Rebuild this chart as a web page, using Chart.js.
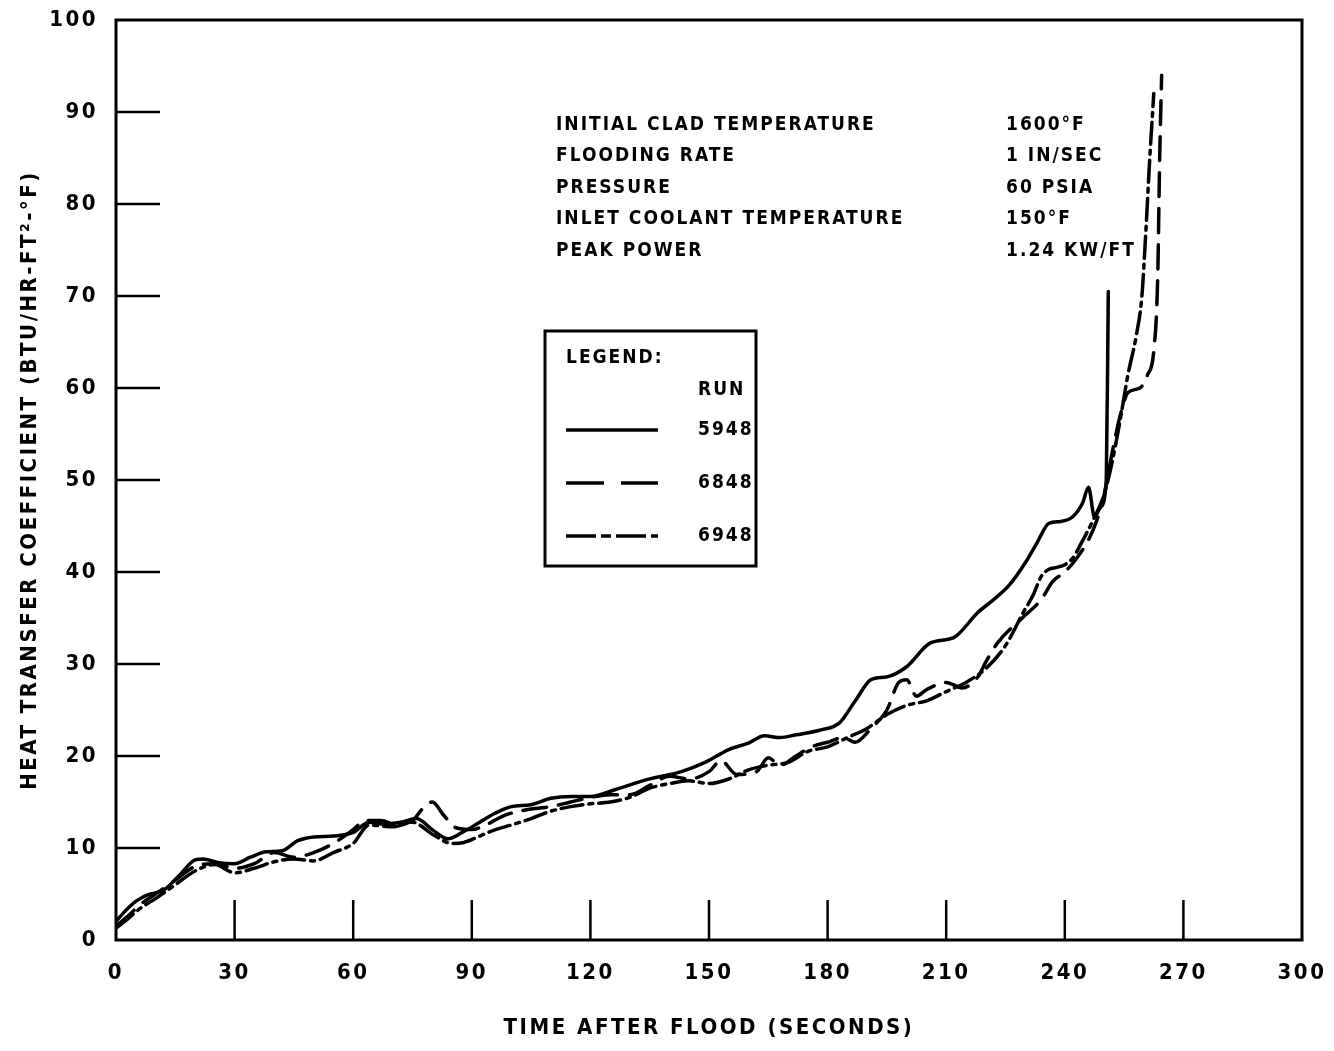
<!DOCTYPE html>
<html lang="en">
<head>
<meta charset="UTF-8" />
<title>Heat Transfer Coefficient vs Time After Flood</title>
<script src="https://cdn.jsdelivr.net/npm/chart.js@4.4.1/dist/chart.umd.min.js"></script>
<style>
  html, body { margin: 0; padding: 0; background: #fff; }
  canvas { display: block; }
</style>
</head>
<body>
<canvas id="chart" width="1334" height="1051"></canvas>
<script>
const xTicks = [0, 30, 60, 90, 120, 150, 180, 210, 240, 270, 300];
const yTicks = [0, 10, 20, 30, 40, 50, 60, 70, 80, 90, 100];

// run 5948 (solid)
const t5948 = [0,2,5,8,12,16,20,22,26,30,34,38,42,46,50,55,60,64,68,72,76,80,84,88,92,96,100,105,110,115,120,126,134,143,149,155,160,164,168,172,178,183,187,191,195,200,206,212,218,222,226,230,233,236,239,242,244.5,246,247.5,249,250.5,251];
const h5948 = [2.0,3.0,4.2,4.9,5.4,7.0,8.7,8.8,8.4,8.3,9.0,9.6,9.7,10.8,11.2,11.3,11.7,12.8,12.6,12.8,13.2,12.0,11.0,11.8,12.8,13.8,14.5,14.7,15.4,15.6,15.6,16.3,17.4,18.3,19.3,20.7,21.4,22.2,22.0,22.3,22.8,23.6,26.0,28.3,28.6,29.7,32.3,32.9,35.6,37.0,38.6,41.0,43.2,45.3,45.5,46.0,47.5,49.2,46.0,47.0,50.0,70.5];

// run 6848 (dashed)
const t6848 = [0,3,6,10,15,20,25,30,35,40,45,50,55,60,63,67,71,75,78,80,83,86,90,94,98,102,106,110,115,120,125,130,135,140,145,150,153,157,162,165,168,172,176,180,184,187,191,195,198,200,202.5,205,210,214,218,220,223,229,234,237,240,243,246,248,250,252,254,256,259,261,262.5,263.5,264,264.5];
const h6848 = [1.5,2.6,3.8,5.0,6.5,8.0,8.3,7.8,8.3,9.5,9.0,9.5,10.5,12.0,13.0,13.0,12.5,13.0,14.5,15.0,13.5,12.2,12.0,12.6,13.5,14.0,14.3,14.5,15.0,15.5,15.8,15.8,16.8,17.8,17.5,18.3,19.5,18.0,18.3,19.8,19.0,20.0,21.0,21.5,22.0,21.5,23.0,25.0,28.0,28.3,26.5,27.2,28.0,27.4,28.6,30.2,32.3,34.9,37.0,39.0,40.0,41.5,43.5,45.5,48.5,53.0,57.0,59.5,60.0,61.5,64.0,72.0,85.0,94.0];

// run 6948 (dash-dot)
const t6948 = [0,3,6,10,15,20,25,30,35,40,45,50,55,60,64,70,75,80,85,88,92,96,100,105,110,115,120,125,130,135,140,145,150,155,160,165,170,175,180,185,190,195,200,205,210,215,220,225,229.5,232,234,236,238,240,242,244,247,250,252,254,256,258,259.5,260.5,261.5,262.5];
const h6948 = [1.3,2.3,3.4,4.5,6.0,7.5,8.2,7.3,7.8,8.5,8.8,8.6,9.5,10.5,12.5,12.3,12.8,11.5,10.5,10.6,11.3,12.0,12.5,13.2,14.0,14.5,14.8,15.0,15.5,16.5,17.0,17.3,17.0,17.5,18.5,19.0,19.3,20.5,21.0,22.0,23.0,24.5,25.5,26.0,27.0,28.0,29.5,32.0,35.6,37.5,39.5,40.3,40.5,40.8,41.5,43.0,45.5,48.5,52.0,56.5,61.5,65.5,70.0,77.0,85.0,92.0];

const runLabels = ["5948", "6848", "6948"];
const conditionNames = ["INITIAL CLAD TEMPERATURE", "FLOODING RATE", "PRESSURE", "INLET COOLANT TEMPERATURE", "PEAK POWER"];
const conditionValues = ["1600°F", "1 IN/SEC", "60 PSIA", "150°F", "1.24 KW/FT"];

const pts = (t, h) => t.map((v, i) => ({ x: v, y: h[i] }));
const dashes = [[], [24, 12], [22, 6, 4, 6]];

const FONT = "'DejaVu Sans Condensed', 'DejaVu Sans', sans-serif";

// spaced-out lettering like the original drawing
const spacing = {
  id: "spacing",
  beforeLayout(chart) { chart.ctx.letterSpacing = "2.5px"; },
  beforeDraw(chart) { chart.ctx.letterSpacing = "2.5px"; }
};

// box round the plot, and the inward tick marks
const frame = {
  id: "frame",
  afterDatasetsDraw(chart) {
    const { ctx, chartArea: a, scales: { x, y } } = chart;
    ctx.save();
    ctx.strokeStyle = "#000";
    ctx.lineWidth = 3;
    ctx.strokeRect(a.left, a.top, a.right - a.left, a.bottom - a.top);
    ctx.lineWidth = 2.5;
    ctx.beginPath();
    xTicks.slice(1, -1).forEach(v => {
      const px = x.getPixelForValue(v);
      ctx.moveTo(px, a.bottom);
      ctx.lineTo(px, a.bottom - 40);
    });
    yTicks.slice(1, -1).forEach(v => {
      const py = y.getPixelForValue(v);
      ctx.moveTo(a.left, py);
      ctx.lineTo(a.left + 44, py);
    });
    ctx.stroke();
    ctx.restore();
  }
};

// test conditions text and legend box
const notes = {
  id: "notes",
  afterDraw(chart) {
    const ctx = chart.ctx;
    ctx.save();
    ctx.fillStyle = "#000";
    ctx.font = "bold 19px " + FONT;
    ctx.letterSpacing = "2px";
    ctx.textAlign = "left";
    ctx.textBaseline = "middle";
    conditionNames.forEach((s, i) => {
      ctx.fillText(s, 556, 125 + i * 31.5);
      ctx.fillText(conditionValues[i], 1006, 125 + i * 31.5);
    });

    ctx.lineWidth = 3;
    ctx.strokeRect(545, 331, 211, 235);
    ctx.fillText("LEGEND:", 566, 358);
    ctx.fillText("RUN", 698, 390);
    const ds = chart.data.datasets;
    ds.forEach((d, i) => {
      const yy = 430 + i * 53;
      ctx.beginPath();
      ctx.lineWidth = 3.5;
      ctx.setLineDash(i === 1 ? [38, 17] : i === 2 ? [30, 5, 10, 5] : []);
      ctx.moveTo(566, yy);
      ctx.lineTo(658, yy);
      ctx.stroke();
      ctx.setLineDash([]);
      ctx.fillText(d.label, 698, yy);
    });
    ctx.restore();
  }
};

new Chart(document.getElementById("chart"), {
  type: "line",
  data: {
    datasets: [
      { label: runLabels[0], data: pts(t5948, h5948), borderDash: dashes[0] },
      { label: runLabels[1], data: pts(t6848, h6848), borderDash: dashes[1] },
      { label: runLabels[2], data: pts(t6948, h6948), borderDash: dashes[2] }
    ]
  },
  options: {
    responsive: false,
    animation: false,
    devicePixelRatio: 1,
    layout: { padding: { top: 20, right: 32, left: 0, bottom: 0 } },
    plugins: { legend: { display: false }, tooltip: { enabled: false } },
    elements: {
      point: { radius: 0 },
      line: { borderColor: "#000", borderWidth: 3.5, cubicInterpolationMode: "monotone", fill: false, borderCapStyle: "round", borderJoinStyle: "round" }
    },
    scales: {
      x: {
        type: "linear", min: 0, max: 300,
        afterBuildTicks: s => { s.ticks = xTicks.map(v => ({ value: v })); },
        afterFit: s => { s.height = 111; s.paddingLeft = 0; s.paddingRight = 0; },
        grid: { display: false, drawTicks: false },
        border: { display: false },
        ticks: { color: "#000", padding: 20, maxRotation: 0, font: { family: FONT, weight: "bold", size: 22 } },
        title: { display: true, text: "TIME AFTER FLOOD (SECONDS)", color: "#000", padding: { top: 0, bottom: 10 }, font: { family: FONT, weight: "bold", size: 22 } }
      },
      y: {
        type: "linear", min: 0, max: 100,
        afterBuildTicks: s => { s.ticks = yTicks.map(v => ({ value: v })); },
        afterFit: s => { s.width = 116; s.paddingTop = 0; s.paddingBottom = 0; },
        grid: { display: false, drawTicks: false },
        border: { display: false },
        ticks: { color: "#000", padding: 18, font: { family: FONT, weight: "bold", size: 22 } },
        title: { display: true, text: "HEAT TRANSFER COEFFICIENT (BTU/HR-FT²-°F)", color: "#000", padding: { top: 17, bottom: 0 }, font: { family: FONT, weight: "bold", size: 22 } }
      }
    }
  },
  plugins: [spacing, frame, notes]
});
</script>
</body>
</html>
